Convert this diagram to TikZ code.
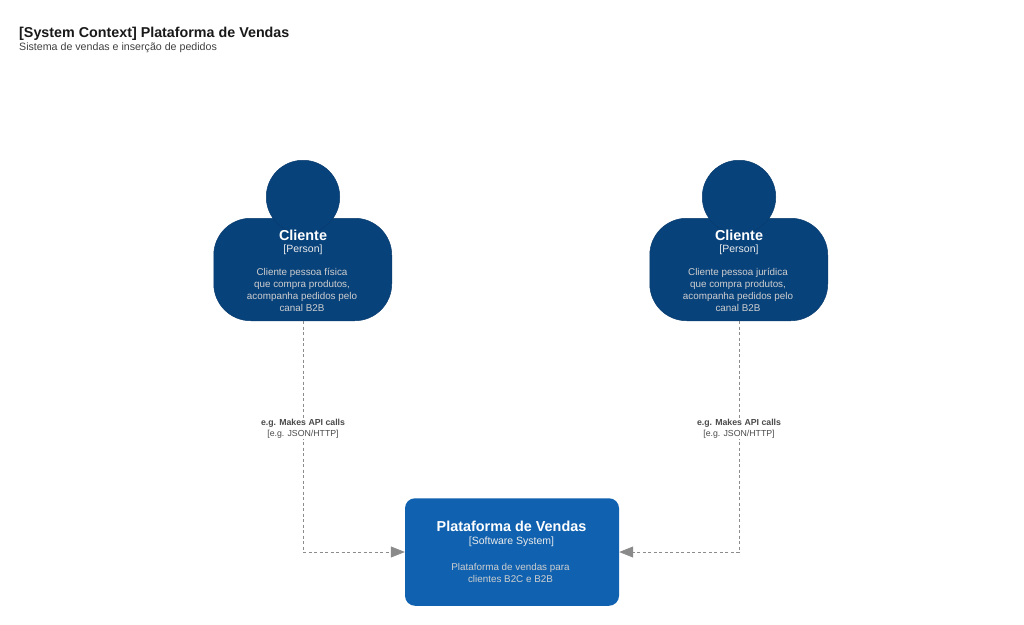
\documentclass[tikz,border=0pt]{standalone}
\usepackage{fontspec}
\setmainfont{Liberation Sans}
\usetikzlibrary{arrows.meta}
\definecolor{personblue}{HTML}{08427B}
\definecolor{personedge}{HTML}{073B6F}
\definecolor{sysblue}{HTML}{1062B0}
\definecolor{linkgrey}{HTML}{8C8C8C}
\definecolor{tipgrey}{HTML}{8A8A8A}
\definecolor{desctext}{HTML}{CFCFCF}
\definecolor{labeltext}{HTML}{4A4A4A}
\tikzset{
  x=1pt,y=-1pt,
  personbody/.style={fill=personblue,draw=personedge,line width=0.5pt,rounded corners=37pt,minimum width=178pt,minimum height=102.5pt,inner sep=0pt},
  personhead/.style={circle,fill=personblue,draw=personedge,line width=0.5pt,minimum size=73.5pt,inner sep=0pt},
  sysbox/.style={fill=sysblue,draw=none,rounded corners=10pt,minimum width=214pt,minimum height=107.5pt,inner sep=0pt},
  nametext/.style={text=white,font=\fontsize{14.4}{16}\selectfont\bfseries,inner sep=0pt},
  tagtext/.style={text=white!92!black,font=\fontsize{10.5}{12}\selectfont,inner sep=0pt},
  desc/.style={text=desctext,font=\fontsize{9.85}{12}\selectfont,align=center,inner sep=0pt},
  link/.style={draw=linkgrey,line width=0.7pt,dash pattern=on 3pt off 2.5pt,-{Triangle[length=14pt,width=11pt,fill=tipgrey,color=tipgrey,sep=0pt]}},
  linklabel/.style={fill=white,text=labeltext,font=\fontsize{8.75}{11}\selectfont,align=center,inner xsep=1pt,inner ysep=1pt},
}
\begin{document}
\begin{tikzpicture}
\useasboundingbox[fill=white] (0,0) rectangle (1024,624);
\node[anchor=west,inner sep=0pt,font=\fontsize{14.3}{16}\selectfont\bfseries,text=black!90] (title) at (19,34) {[System Context] Plataforma de Vendas};
\node[anchor=west,inner sep=0pt,font=\fontsize{10.65}{12}\selectfont,text=black!75] (subtitle) at (19,47.5) {Sistema de vendas e inserção de pedidos};

\node[personbody] (bodyA) at (302.75,269.5) {};
\node[personhead] (headA) at (303,197) {};
\node[nametext] (nameA) at (303,235) {Cliente};
\node[tagtext] (tagA) at (303,250) {[Person]};
\node[desc] (descA) at (302,290) {Cliente pessoa física\\que compra produtos,\\acompanha pedidos pelo\\canal B2B};

\node[personbody] (bodyB) at (738.75,269.5) {};
\node[personhead] (headB) at (739,197) {};
\node[nametext] (nameB) at (739,235) {Cliente};
\node[tagtext] (tagB) at (739,250) {[Person]};
\node[desc] (descB) at (738,290) {Cliente pessoa jurídica\\que compra produtos,\\acompanha pedidos pelo\\canal B2B};

\node[sysbox] (sys) at (512,552) {};
\node[nametext] (nameS) at (511.5,526.5) {Plataforma de Vendas};
\node[tagtext] (tagS) at (511.5,541.5) {[Software System]};
\node[desc] (descS) at (510.5,573) {Plataforma de vendas para\\clientes B2C e B2B};

\draw[link] (bodyA.south -| headA.south) |- (sys.west);
\draw[link] (bodyB.south -| headB.south) |- (sys.east);

\node[linklabel] (labelA) at (303,428.5) {\textbf{e.g. Makes API calls}\\{}[e.g. JSON/HTTP]};
\node[linklabel] (labelB) at (739,428.5) {\textbf{e.g. Makes API calls}\\{}[e.g. JSON/HTTP]};
\end{tikzpicture}
\end{document}
